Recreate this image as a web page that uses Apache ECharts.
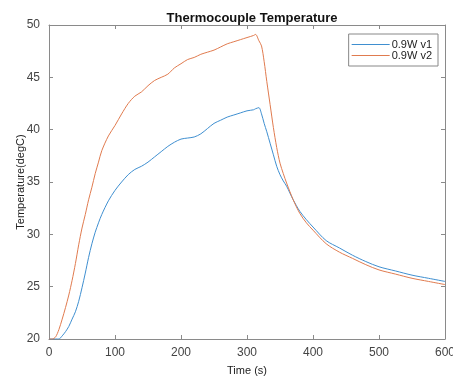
<!DOCTYPE html>
<html>
<head>
<meta charset="utf-8">
<script src="https://cdn.jsdelivr.net/npm/echarts@6/dist/echarts.min.js"></script>
<style>
  html, body { margin: 0; padding: 0; background: #fff; }
  #chart { width: 453px; height: 376px; }
</style>
</head>
<body>
<div id="chart"></div>
<script>
// Sample times (s)
const timeS = [0, 5, 10, 15, 20, 25, 30, 35, 40, 45, 50, 55, 60, 65, 70, 75, 80, 90,
  100, 110, 120, 130, 140, 150, 160, 170, 180, 190, 200, 210, 220, 230, 240, 250,
  260, 270, 280, 290, 300, 310, 313, 318, 322, 326, 330, 335, 340, 345, 350, 355,
  360, 370, 380, 390, 400, 420, 440, 460, 480, 500, 525, 550, 575, 600];

// Thermocouple readings (degC), run 1
const run1 = [20.0, 20.0, 20.0, 20.0, 20.3, 20.7, 21.2, 21.9, 22.6, 23.6, 24.9, 26.3, 27.8, 29.1, 30.2, 31.1, 31.9, 33.2,
  34.2, 35.0, 35.7, 36.2, 36.5, 36.9, 37.4, 37.9, 38.4, 38.8, 39.1, 39.2, 39.3, 39.6, 40.1, 40.6,
  40.9, 41.2, 41.4, 41.6, 41.8, 41.9, 42.0, 42.1, 41.5, 40.6, 39.8, 38.7, 37.6, 36.5, 35.7, 35.1,
  34.6, 33.3, 32.2, 31.4, 30.7, 29.4, 28.7, 28.0, 27.4, 26.9, 26.5, 26.1, 25.8, 25.5];

// Thermocouple readings (degC), run 2
const run2 = [20.0, 20.0, 20.2, 20.9, 21.9, 23.0, 24.2, 25.6, 27.2, 29.0, 30.6, 31.9, 33.3, 34.5, 35.8, 36.9, 38.0, 39.4,
  40.4, 41.5, 42.5, 43.2, 43.6, 44.2, 44.7, 45.0, 45.3, 45.9, 46.3, 46.7, 46.9, 47.2, 47.4, 47.6,
  47.9, 48.2, 48.4, 48.6, 48.8, 49.0, 49.1, 48.5, 48.0, 46.5, 44.6, 42.4, 40.2, 38.3, 36.8, 35.8,
  34.9, 33.3, 32.0, 31.1, 30.4, 29.1, 28.3, 27.7, 27.1, 26.6, 26.2, 25.8, 25.5, 25.2];

const seriesNames = ['0.9W v1', '0.9W v2'];
const xTicks = [0, 100, 200, 300, 400, 500, 600];
const yTicks = [20, 25, 30, 35, 40, 45, 50];

const pairs = (ys) => timeS.map((t, i) => [t, ys[i]]);

const FONT = 'Liberation Sans, Arial, Helvetica, sans-serif';
const AXIS_COLOR = '#8a8a8a';
const LABEL_COLOR = '#444';
const BLUE = '#3f8fd0';
const ORANGE = '#e07b4f';

const frameAxis = (extra) => Object.assign({
  type: 'value',
  axisLine: { show: true, onZero: false, lineStyle: { color: AXIS_COLOR, width: 1 } },
  axisTick: { show: true, inside: true, length: 4, lineStyle: { color: AXIS_COLOR } },
  splitLine: { show: false }
}, extra);

const chart = echarts.init(document.getElementById('chart'), null, { renderer: 'canvas' });
chart.setOption({
  animation: false,
  backgroundColor: '#fff',
  textStyle: { fontFamily: FONT },
  title: {
    text: 'Thermocouple Temperature',
    left: 247, top: 7, textAlign: 'center',
    textStyle: { fontSize: 13, fontWeight: 'bold', color: '#111', fontFamily: FONT }
  },
  legend: {
    data: seriesNames,
    orient: 'vertical',
    right: 15, top: 34,
    itemWidth: 38, itemHeight: 1, itemGap: 0,
    padding: [5, 6, 5, 3],
    borderColor: '#888', borderWidth: 1,
    backgroundColor: '#fff',
    icon: 'rect',
    textStyle: { fontSize: 11, lineHeight: 10, color: '#222', fontFamily: FONT, padding: [0, 0, 0, -3] }
  },
  grid: { left: 49, right: 8, top: 25, bottom: 37, containLabel: false, outerBoundsMode: 'none' },
  xAxis: [
    frameAxis({
      min: xTicks[0], max: xTicks[xTicks.length - 1], interval: xTicks[1] - xTicks[0],
      position: 'bottom',
      name: 'Time (s)', nameLocation: 'middle', nameGap: 26, nameMoveOverlap: false,
      nameTextStyle: { fontSize: 11, color: '#222', fontFamily: FONT },
      axisLabel: { fontSize: 12, color: LABEL_COLOR, margin: 8, fontFamily: FONT }
    }),
    frameAxis({
      min: xTicks[0], max: xTicks[xTicks.length - 1], interval: xTicks[1] - xTicks[0],
      position: 'top', axisLabel: { show: false }
    })
  ],
  yAxis: [
    frameAxis({
      min: yTicks[0], max: yTicks[yTicks.length - 1], interval: yTicks[1] - yTicks[0],
      position: 'left',
      name: 'Temperature(degC)', nameLocation: 'middle', nameGap: 23, nameMoveOverlap: false,
      nameTextStyle: { fontSize: 11, color: '#222', fontFamily: FONT },
      axisLabel: { fontSize: 12, color: LABEL_COLOR, margin: 9, fontFamily: FONT }
    }),
    frameAxis({
      min: yTicks[0], max: yTicks[yTicks.length - 1], interval: yTicks[1] - yTicks[0],
      position: 'right', axisLabel: { show: false }
    })
  ],
  series: [
    {
      name: seriesNames[0], type: 'line', data: pairs(run1),
      symbol: 'none', smooth: 0.3, clip: true,
      lineStyle: { color: BLUE, width: 1 }, itemStyle: { color: BLUE }
    },
    {
      name: seriesNames[1], type: 'line', data: pairs(run2),
      symbol: 'none', smooth: 0.3, clip: true,
      lineStyle: { color: ORANGE, width: 1 }, itemStyle: { color: ORANGE }
    }
  ]
});
</script>
</body>
</html>
